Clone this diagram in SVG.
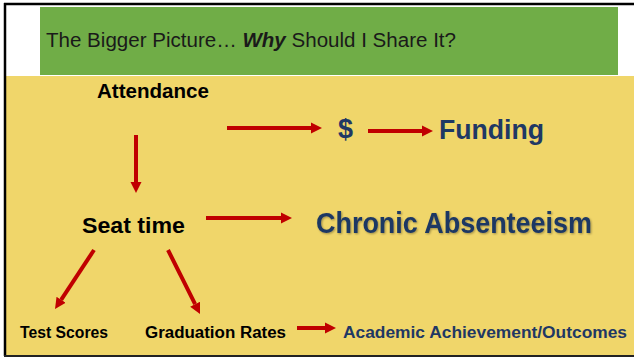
<svg xmlns="http://www.w3.org/2000/svg" width="634" height="358" viewBox="0 0 634 358">
  <defs>
    <marker id="ah" viewBox="0 -6 12 12" refX="0" refY="0" markerWidth="12" markerHeight="12" markerUnits="userSpaceOnUse" orient="auto">
      <path d="M0,-5.5 L11,0 L0,5.5 z" fill="#c00000"/>
    </marker>
    <filter id="sh" x="-5%" y="-20%" width="110%" height="150%">
      <feDropShadow dx="1" dy="1" stdDeviation="0.8" flood-color="#000" flood-opacity="0.35"/>
    </filter>
  </defs>
  <style>
    .t { font-family: "Liberation Sans", Arial, sans-serif; }
    .blk { fill: #000; font-weight: bold; }
    .nav { fill: #1f3864; font-weight: bold; }
    .arr { stroke: #c00000; stroke-width: 4; fill: none; marker-end: url(#ah); }
  </style>
  <rect x="0" y="0" width="634" height="358" fill="#ffffff"/>
  <rect x="6" y="76" width="628" height="279" fill="#f0d66a"/>
  <g id="title">
    <rect x="40" y="7" width="578" height="68" fill="#70ad47"/>
    <text class="t" x="46" y="47" font-size="20" fill="#1a1a1a" textLength="410" lengthAdjust="spacingAndGlyphs">The Bigger Picture… <tspan font-weight="bold" font-style="italic">Why</tspan> Should I Share It?</text>
  </g>
  <g id="frame" fill="none" stroke="#000">
    <line x1="5" y1="3" x2="5" y2="356" stroke-width="2.5"/>
    <line x1="4" y1="4" x2="634" y2="4" stroke-width="2.5"/>
    <line x1="4" y1="356" x2="634" y2="356" stroke-width="2" stroke="#222"/>
  </g>
  <g id="connectors">
    <line class="arr" x1="227" y1="128" x2="311" y2="128"/>
    <line class="arr" x1="368" y1="131" x2="422" y2="131"/>
    <line class="arr" x1="136" y1="135" x2="136" y2="182"/>
    <line class="arr" x1="206" y1="218" x2="281" y2="218"/>
    <line class="arr" x1="94" y1="250" x2="61.1" y2="299.8"/>
    <line class="arr" x1="168" y1="250" x2="195.1" y2="304.2"/>
    <line class="arr" x1="297" y1="328" x2="325" y2="328"/>
  </g>
  <g id="attendance"><text class="t blk" x="97" y="98" font-size="20" textLength="112" lengthAdjust="spacingAndGlyphs">Attendance</text></g>
  <g id="dollar"><text class="t nav" x="338" y="138" font-size="27" textLength="15" lengthAdjust="spacingAndGlyphs">$</text></g>
  <g id="funding"><text class="t nav" x="439" y="139" font-size="28" textLength="105" lengthAdjust="spacingAndGlyphs">Funding</text></g>
  <g id="seat-time"><text class="t blk" x="82" y="233" font-size="22" textLength="103" lengthAdjust="spacingAndGlyphs">Seat time</text></g>
  <g id="chronic"><text class="t nav" x="316" y="233" font-size="29" textLength="276" lengthAdjust="spacingAndGlyphs" filter="url(#sh)">Chronic Absenteeism</text></g>
  <g id="test-scores"><text class="t blk" x="20" y="338" font-size="16" textLength="88" lengthAdjust="spacingAndGlyphs">Test Scores</text></g>
  <g id="graduation"><text class="t blk" x="145" y="338" font-size="16" textLength="141" lengthAdjust="spacingAndGlyphs">Graduation Rates</text></g>
  <g id="achievement"><text class="t nav" x="343" y="338" font-size="16" textLength="284" lengthAdjust="spacingAndGlyphs">Academic Achievement/Outcomes</text></g>
</svg>
